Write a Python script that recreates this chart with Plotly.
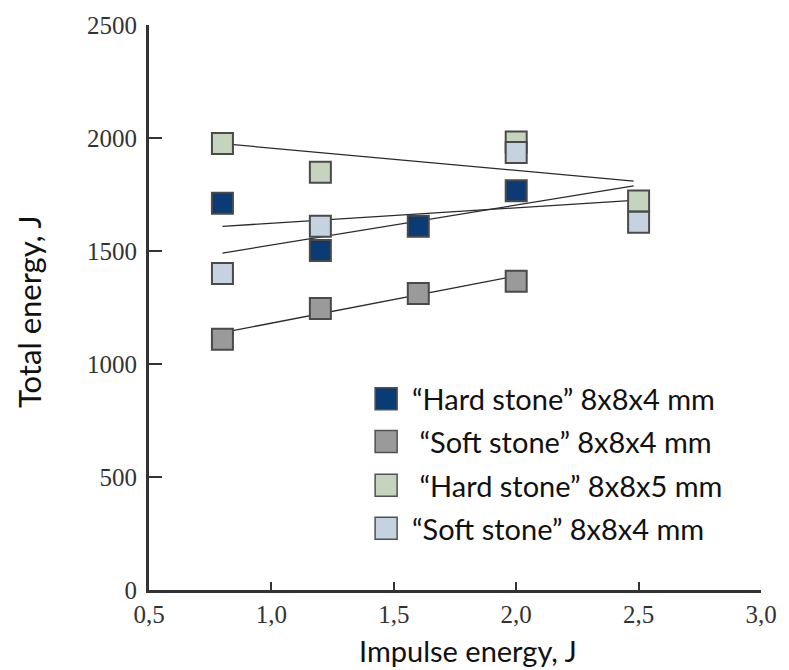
import plotly.graph_objects as go

# ---------------- data ----------------
hard4_x = [0.8, 1.2, 1.6, 2.0]
hard4_y = [1711, 1502, 1609, 1767]
soft4_x = [0.8, 1.2, 1.6, 2.0]
soft4_y = [1109, 1246, 1312, 1366]
hard5_x = [0.8, 1.2, 2.0, 2.5]
hard5_y = [1976, 1848, 1982, 1721]
soft4b_x = [0.8, 1.2, 2.0, 2.5]
soft4b_y = [1400, 1609, 1936, 1627]

# trend lines (end points)
hard4_trend_x = [0.8, 2.48]
hard4_trend_y = [1609, 1724]
soft4_trend_x = [0.8, 2.0]
soft4_trend_y = [1139, 1390]
hard5_trend_x = [0.8, 2.48]
hard5_trend_y = [1975, 1809]
soft4b_trend_x = [0.8, 2.48]
soft4b_trend_y = [1491, 1788]

series_names = [
    "\u201cHard stone\u201d 8x8x4 mm",
    "\u00a0\u201cSoft stone\u201d 8x8x4 mm",
    "\u00a0\u201cHard stone\u201d 8x8x5 mm",
    "\u201cSoft stone\u201d 8x8x4 mm",
]
series_colors = ["#0b3b75", "#9a9a9a", "#c5d5bd", "#c4d3df"]

x_tick_vals = [0.5, 1.0, 1.5, 2.0, 2.5, 3.0]
x_tick_text = ["0,5", "1,0", "1,5", "2,0", "2,5", "3,0"]
y_tick_vals = [0, 500, 1000, 1500, 2000, 2500]
y_tick_text = ["0", "500", "1000", "1500", "2000", "2500"]

x_title = "Impulse energy, J"
y_title = "Total energy, J"

# ---------------- figure ----------------
W, H = 789, 670
ML, MR, MT, MB = 149, 18, 23, 80
PW, PH = W - ML - MR, H - MT - MB

def px2paper_x(px):
    return (px - ML) / PW

def py2paper_y(py):
    return (H - MB - py) / PH

fig = go.Figure()

trend_sets = [
    (hard4_trend_x, hard4_trend_y),
    (soft4_trend_x, soft4_trend_y),
    (hard5_trend_x, hard5_trend_y),
    (soft4b_trend_x, soft4b_trend_y),
]
for tx, ty in trend_sets:
    fig.add_trace(go.Scatter(
        x=tx, y=ty, mode="lines",
        line=dict(color="#2a2a2a", width=1.3),
        showlegend=False, hoverinfo="skip", cliponaxis=False,
    ))

point_sets = [
    (hard4_x, hard4_y),
    (soft4_x, soft4_y),
    (hard5_x, hard5_y),
    (soft4b_x, soft4b_y),
]
for (px, py), name, col in zip(point_sets, series_names, series_colors):
    fig.add_trace(go.Scatter(
        x=px, y=py, mode="markers", name=name,
        marker=dict(symbol="square", size=21, color=col,
                    line=dict(color="#4a4a4a", width=2)),
        showlegend=False, cliponaxis=False,
    ))

# custom legend (squares + text)
legend_rows_px = [398, 441, 485, 528]
shapes = []
annotations = []
for ypx, name, col in zip(legend_rows_px, series_names, series_colors):
    shapes.append(dict(
        type="rect", xref="paper", yref="paper",
        xsizemode="pixel", ysizemode="pixel",
        xanchor=px2paper_x(390), yanchor=py2paper_y(ypx),
        x0=-11, x1=11, y0=-11, y1=11,
        fillcolor=col, line=dict(color="#505050", width=1.5),
    ))
    annotations.append(dict(
        text=name, xref="paper", yref="paper",
        x=px2paper_x(414), y=py2paper_y(ypx),
        xanchor="left", yanchor="middle", showarrow=False,
        font=dict(family="Lato", size=29, color="#111111"),
    ))

annotations.append(dict(
    text=x_title, xref="paper", yref="paper",
    x=px2paper_x(473), y=py2paper_y(651),
    xanchor="center", yanchor="middle", showarrow=False,
    font=dict(family="Lato", size=29, color="#111111"),
))
annotations.append(dict(
    text=y_title, xref="paper", yref="paper",
    x=px2paper_x(27), y=py2paper_y(310),
    xanchor="center", yanchor="middle", showarrow=False, textangle=-90,
    font=dict(family="Lato", size=31, color="#111111"),
))

fig.update_layout(
    width=W, height=H,
    margin=dict(l=ML, r=MR, t=MT, b=MB, pad=0),
    paper_bgcolor="white", plot_bgcolor="white",
    showlegend=False,
    shapes=shapes, annotations=annotations,
    xaxis=dict(
        range=[0.5, 3.0], tickmode="array",
        tickvals=x_tick_vals, ticktext=x_tick_text,
        showgrid=False, zeroline=False,
        showline=True, linecolor="#333333", linewidth=3,
        ticks="inside", ticklen=8, tickwidth=1.5, tickcolor="#333333",
        tickfont=dict(family="Liberation Serif", size=25, color="#333333"),
        ticklabelstandoff=0,
    ),
    yaxis=dict(
        range=[0, 2500], tickmode="array",
        tickvals=y_tick_vals, ticktext=y_tick_text,
        showgrid=False, zeroline=False,
        showline=True, linecolor="#333333", linewidth=3,
        ticks="inside", ticklen=13, tickwidth=1.5, tickcolor="#333333",
        tickfont=dict(family="Liberation Serif", size=25, color="#333333"),
        ticklabelstandoff=4,
    ),
)

fig.write_html("out.html")
